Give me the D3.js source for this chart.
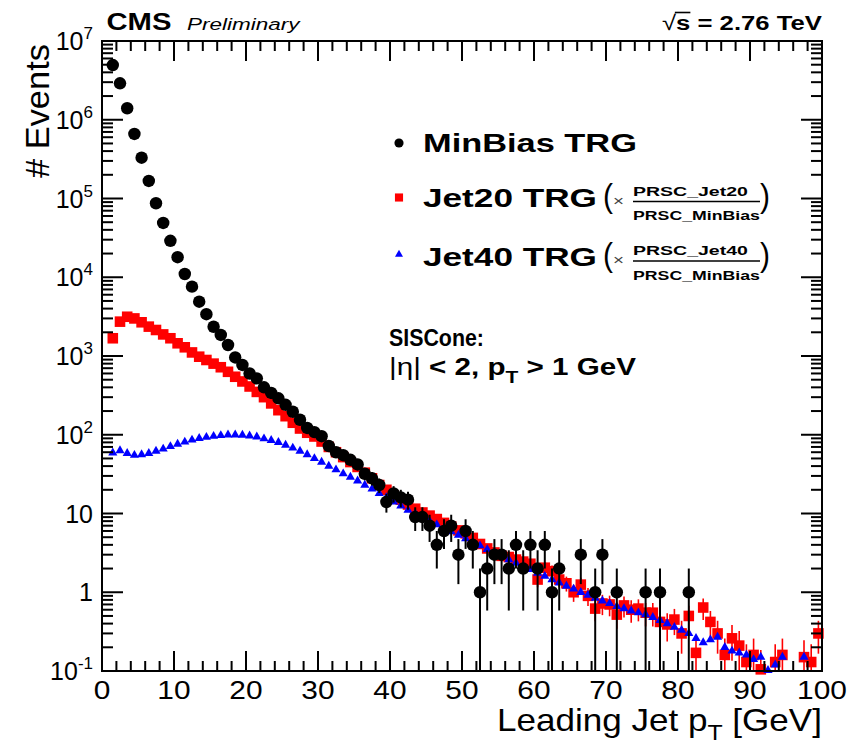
<!DOCTYPE html>
<html>
<head>
<meta charset="utf-8">
<script src="https://cdn.jsdelivr.net/npm/d3@7"></script>
<style>
  html, body { margin: 0; padding: 0; background: #fff; }
  svg { display: block; font-family: "Liberation Sans", Arial, Helvetica, sans-serif; }
</style>
</head>
<body>
<svg id="chart" width="857" height="746"></svg>
<script>
// Leading-jet pT spectra, 1 GeV bins from 1 to 100 GeV (bin i covers [1+i, 2+i]).
const binLow = 1;
const binWidth = 1;

// MinBias-triggered event counts (empty bins are null)
const minBiasTrg = [
  4.95e6, 2.9e6, 1.4e6, 6.6e5, 3.3e5, 1.67e5, 8.7e4, 4.9e4, 2.9e4, 1.8e4,
  1.1e4, 7600, 4900, 3400, 2350, 1850, 1380, 960, 770, 600,
  520, 400, 340, 290, 240, 196, 155, 122, 108, 96,
  72, 60, 55, 48, 42, 32, 28, 23, 14, 18,
  16, 15, 9, 9, 7, 4, 6, 7, 3, 6,
  4, 1, 2, 3, 3, 2, 4, 2, 4, 2,
  4, 1, 2, null, null, 3, null, 1, 3, null,
  1, null, null, null, 1, null, 1, null, null, null,
  1, null, null, null, null, null, null, null, null, null,
  null, null, null, null, null, null, null, null, null
];

// Jet20-triggered spectrum, scaled by the prescale ratio
const jet20Trg = [
  1680, 2730, 3150, 3000, 2680, 2360, 2140, 1880, 1680, 1450,
  1290, 1110, 980, 890, 800, 720, 630, 545, 475, 410,
  350, 300, 250, 205, 172, 142, 120, 106, 95, 82,
  70, 60, 52, 45, 39, 33, 28, 23, 20, 17,
  15, 13, 11.5, 10.3, 9.4, 8.5, 7.6, 6.8, 6.1, 5.6,
  4.9, 4.1, 3.6, 3.2, 2.9, 2.8, 2.6, 2.45, 2.3, 1.45,
  2.05, 1.85, 1.45, 1.3, 1.0, 1.25, 0.9, 0.62, 0.72, 0.7,
  0.52, 0.68, 0.6, 0.62, 0.55, 0.55, 0.42, 0.39, 0.45, 0.3,
  0.5, 0.17, 0.64, 0.42, 0.3, 0.16, 0.26, 0.21, 0.13, 0.16,
  0.105, null, 0.13, 0.16, null, null, 0.15, 0.13, 0.3
];
const jet20EventWeight = 0.06;

// Jet40-triggered spectrum, scaled by the prescale ratio
const jet40Trg = [
  59, 63, 58, 55, 56, 58, 62, 66, 71, 76,
  81, 86, 90, 93, 96, 98, 100, 100, 99, 97,
  94, 89, 85, 80, 74, 68, 62, 56, 50, 45,
  40, 36, 32, 29, 26, 23, 20.5, 18, 16, 14,
  12.5, 11, 10, 9, 8, 7.2, 6.5, 5.9, 5.3, 4.8,
  4.3, 3.9, 3.5, 3.2, 2.9, 2.6, 2.35, 2.15, 1.95, 1.75,
  1.6, 1.45, 1.32, 1.2, 1.1, 1.0, 0.92, 0.84, 0.78, 0.72,
  0.66, 0.62, 0.58, 0.55, 0.52, 0.48, 0.44, 0.4, 0.36, 0.33,
  0.3, 0.26, 0.23, 0.25, 0.27, 0.2, 0.18, 0.17, 0.16, 0.14,
  0.15, 0.102, 0.12, 0.15, null, null, 0.15, null, null
];

// Axis ticks and labels
const xMajorTicks = [0, 10, 20, 30, 40, 50, 60, 70, 80, 90, 100];
const xTickLabels = ["0", "10", "20", "30", "40", "50", "60", "70", "80", "90", "100"];
const yDecadeTicks = [0.1, 1, 10, 100, 1e3, 1e4, 1e5, 1e6, 1e7];
const yTickLabels = [["10", "-1"], ["1", ""], ["10", ""], ["10", "2"], ["10", "3"],
                     ["10", "4"], ["10", "5"], ["10", "6"], ["10", "7"]];

const legendLabels = ["MinBias TRG", "Jet20 TRG", "Jet40 TRG"];
const prescaleNumerators = ["PRSC_Jet20", "PRSC_Jet40"];
const prescaleDenominator = "PRSC_MinBias";

// ---------------------------------------------------------------------------
const svg = d3.select("#chart");
const frame = { left: 102, right: 822, top: 41, bottom: 671 };

const x = d3.scaleLinear().domain([0, 100]).range([frame.left, frame.right]);
const y = d3.scaleLog().domain([0.1, 1e7]).range([frame.bottom, frame.top]);

const binCenter = i => binLow + (i + 0.5) * binWidth;

// Places a text element and stretches it horizontally to a given width (or by sx).
function place(parent, o) {
  const g = parent.append("g");
  const t = g.append("text")
    .attr("font-size", o.size)
    .attr("font-weight", o.weight || "normal")
    .attr("font-style", o.style || "normal")
    .attr("fill", o.fill || "#000");
  if (o.build) o.build(t); else t.text(o.text);
  const bb = t.node().getBBox();
  const sx = o.width ? o.width / bb.width : (o.sx || 1);
  const w = bb.width * sx;
  const left = o.anchor === "end" ? o.x - w : o.anchor === "middle" ? o.x - w / 2 : o.x;
  let tr = `translate(${left - bb.x * sx},${o.y}) scale(${sx},1)`;
  if (o.frame) tr = o.frame + " " + tr;
  g.attr("transform", tr);
  return { g, t, sx };
}

// ---- clip region for error bars
svg.append("clipPath").attr("id", "plotArea")
  .append("rect")
  .attr("x", frame.left).attr("y", frame.top)
  .attr("width", frame.right - frame.left).attr("height", frame.bottom - frame.top);

// ---- data series
function series(values, errFn) {
  return values.map((v, i) => ({ pt: binCenter(i), v, err: errFn ? errFn(v) : 0 }))
               .filter(d => d.v != null);
}
const blackPts = series(minBiasTrg, v => Math.sqrt(v));
const redPts = series(jet20Trg, v => Math.sqrt(v * jet20EventWeight));
const bluePts = series(jet40Trg, null);

const yClamp = v => y(Math.max(v, 0.05));

const marks = svg.append("g");

function errorBars(pts, color, width) {
  marks.append("g").attr("clip-path", "url(#plotArea)")
    .selectAll("line").data(pts.filter(d => d.err > 0)).join("line")
    .attr("x1", d => x(d.pt)).attr("x2", d => x(d.pt))
    .attr("y1", d => yClamp(d.v - d.err)).attr("y2", d => y(d.v + d.err))
    .attr("stroke", color).attr("stroke-width", width);
}

const squareSym = d3.symbol().type(d3.symbolSquare).size(112);
const triSym = d3.symbol().type(d3.symbolTriangle).size(36);
const circleSym = d3.symbol().type(d3.symbolCircle).size(122);

// Jet20: red squares
errorBars(redPts, "#ff0000", 1.6);
marks.append("g").selectAll("path").data(redPts).join("path")
  .attr("d", squareSym)
  .attr("transform", d => `translate(${x(d.pt)},${y(d.v)})`)
  .attr("fill", "#ff0000");

// Jet40: blue triangles
marks.append("g").selectAll("path").data(bluePts).join("path")
  .attr("d", triSym)
  .attr("transform", d => `translate(${x(d.pt)},${y(d.v)})`)
  .attr("fill", "#0000ff");

// MinBias: black circles
errorBars(blackPts, "#000", 2);
marks.append("g").selectAll("path").data(blackPts).join("path")
  .attr("d", circleSym)
  .attr("transform", d => `translate(${x(d.pt)},${y(d.v)})`)
  .attr("fill", "#000");

// ---- frame with inward ticks on all four sides
const axes = svg.append("g").attr("stroke", "#000").attr("stroke-width", 2).attr("fill", "none");
const xMinor = d3.range(0, 101, 2).filter(v => v % 10 !== 0);
const yMinor = [];
yDecadeTicks.slice(0, -1).forEach(d => { for (let k = 2; k <= 9; k++) yMinor.push(d * k); });

function xTick(v, len) {
  axes.append("line").attr("x1", x(v)).attr("x2", x(v)).attr("y1", frame.bottom).attr("y2", frame.bottom - len);
  axes.append("line").attr("x1", x(v)).attr("x2", x(v)).attr("y1", frame.top).attr("y2", frame.top + len);
}
function yTick(v, len) {
  axes.append("line").attr("y1", y(v)).attr("y2", y(v)).attr("x1", frame.left).attr("x2", frame.left + len);
  axes.append("line").attr("y1", y(v)).attr("y2", y(v)).attr("x1", frame.right).attr("x2", frame.right - len);
}
xMajorTicks.forEach(v => xTick(v, 20));
xMinor.forEach(v => xTick(v, 10));
yDecadeTicks.forEach(v => yTick(v, 21));
yMinor.forEach(v => yTick(v, 11));
axes.append("rect")
  .attr("x", frame.left).attr("y", frame.top)
  .attr("width", frame.right - frame.left).attr("height", frame.bottom - frame.top);

// ---- tick labels
xMajorTicks.forEach((v, i) => {
  place(svg, { x: x(v), y: 699, anchor: "middle", size: 26, sx: 1.15, text: xTickLabels[i] });
});
yDecadeTicks.forEach((v, i) => {
  const [base, exp] = yTickLabels[i];
  place(svg, {
    x: 93, y: y(v) + 9, anchor: "end", size: 25, sx: 1.0,
    build: t => {
      t.append("tspan").text(base);
      if (exp) t.append("tspan").attr("font-size", 17).attr("dy", -11).text(exp);
    }
  });
});

// ---- axis titles
place(svg, {
  x: 822, y: 731, anchor: "end", size: 31, width: 325,
  build: t => {
    t.append("tspan").text("Leading Jet p");
    t.append("tspan").attr("font-size", 22).attr("dy", 9).text("T");
    t.append("tspan").attr("dy", -9).text(" [GeV]");
  }
});
place(svg, {
  frame: "translate(49,41) rotate(-90)",
  x: -3, y: 0, anchor: "end", size: 34, width: 134, text: "# Events"
});

// ---- header
place(svg, { x: 106.5, y: 30, anchor: "start", size: 23.5, weight: "bold", width: 65, text: "CMS" });
place(svg, { x: 187, y: 29.5, anchor: "start", size: 16.5, style: "italic", width: 115, text: "Preliminary" });
const energy = place(svg, {
  x: 822, y: 30, anchor: "end", size: 21, weight: "bold", width: 160,
  build: t => {
    t.append("tspan").attr("font-weight", "normal").text("\u221A");
    t.append("tspan").text("s");
    t.append("tspan").text(" = 2.76 TeV");
  }
});
{
  const n = energy.t.node();
  const e0 = n.getExtentOfChar(0), e1 = n.getExtentOfChar(1);
  energy.g.append("line")
    .attr("x1", e0.x + e0.width - 1).attr("x2", e1.x + e1.width)
    .attr("y1", -17.5).attr("y2", -17.5)
    .attr("stroke", "#000").attr("stroke-width", 1.6);
}

// ---- legend
const legend = svg.append("g");
const legendRows = [
  { base: 151.5, marker: 143, sym: d3.symbol().type(d3.symbolCircle).size(66), color: "#000", width: 214 },
  { base: 206.5, marker: 197.5, sym: d3.symbol().type(d3.symbolSquare).size(66), color: "#ff0000", width: 174 },
  { base: 266, marker: 254.5, sym: d3.symbol().type(d3.symbolTriangle).size(28), color: "#0000ff", width: 174 }
];
legendRows.forEach((r, i) => {
  legend.append("path").attr("d", r.sym).attr("transform", `translate(399,${r.marker})`).attr("fill", r.color);
  place(legend, { x: 423, y: r.base, anchor: "start", size: 26, weight: "bold", width: r.width, text: legendLabels[i] });
  if (i > 0) {
    const line = r.base - 5;
    place(legend, { x: 603, y: r.base, anchor: "start", size: 33, width: 10, text: "(" });
    place(legend, { x: 613, y: r.base - 1, anchor: "start", size: 15, fill: "#444", width: 11, text: "\u00D7" });
    place(legend, { x: 633, y: line - 6, anchor: "start", size: 13.5, weight: "bold", width: 115, text: prescaleNumerators[i - 1] });
    legend.append("line").attr("x1", 633).attr("x2", 760).attr("y1", line).attr("y2", line)
      .attr("stroke", "#000").attr("stroke-width", 1.5);
    place(legend, { x: 633, y: line + 18.5, anchor: "start", size: 13.5, weight: "bold", width: 127, text: prescaleDenominator });
    place(legend, { x: 760, y: r.base, anchor: "start", size: 33, width: 10, text: ")" });
  }
});

// ---- jet selection note
place(svg, { x: 389, y: 346, anchor: "start", size: 24, weight: "bold", width: 95, text: "SISCone:" });
place(svg, {
  x: 389, y: 375, anchor: "start", size: 24, weight: "bold", width: 247,
  build: t => {
    t.append("tspan").attr("font-weight", "normal").text("|");
    t.append("tspan").attr("font-weight", "normal").text("\u03B7");
    t.append("tspan").attr("font-weight", "normal").text("|");
    t.append("tspan").text(" < 2, p");
    t.append("tspan").attr("font-size", 17).attr("dy", 8).text("T");
    t.append("tspan").attr("dy", -8).text(" > 1 GeV");
  }
});
</script>
</body>
</html>
